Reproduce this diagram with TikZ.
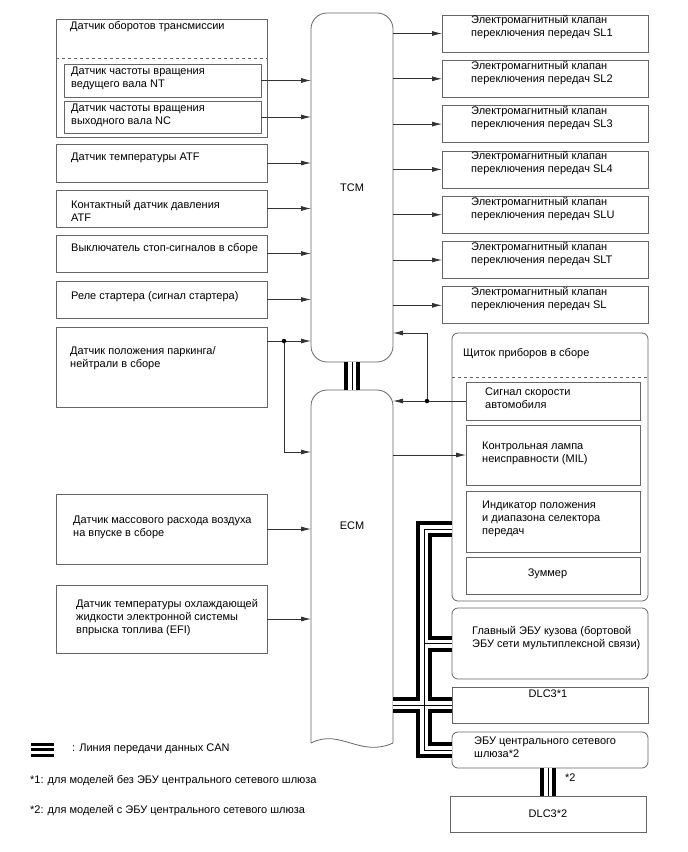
\documentclass[tikz,border=0pt]{standalone}
\usepackage{fontspec}
\setmainfont{Liberation Sans}
\usetikzlibrary{positioning,arrows.meta}

\begin{document}
\begin{tikzpicture}[x=1pt,y=1pt,
  every node/.style={font=\fontsize{11}{13}\selectfont},
  box/.style={draw=black!60,line width=0.8pt,inner sep=0pt,outer sep=0pt,minimum width=211pt},
  rbox/.style={box,minimum width=206pt,minimum height=37pt},
  ibox/.style={box,minimum width=174pt},
  txt/.style={anchor=west,align=left,inner sep=0pt},
  arr/.style={draw=black!80,line width=0.8pt,-{Latex[length=10pt,width=5pt]}},
  dot/.style={circle,fill=black,inner sep=0pt,minimum size=4.5pt},
  can/.style={line width=0.8pt,line join=miter,preaction={draw,line width=16pt},preaction={draw=white,line width=8pt}}]
\useasboundingbox (0,0) rectangle (688,-852);
% left column
\node[box,minimum height=118pt] (tsen) at (161.5,-78) {};
\draw[dashed,draw=black!60,line width=0.8pt] (tsen.west |- 0,-58) -- (tsen.east |- 0,-58);
\node[txt] (tsent) at (70,-27) {Датчик оборотов трансмиссии};
\node[box,minimum width=197pt,minimum height=33pt] (nt) at (162.5,-80.5) {};
\node[box,minimum width=197pt,minimum height=32pt] (nc) at (162.5,-117) {};
\node[txt] (ntt) at (71,-78) {Датчик частоты вращения\\ведущего вала NT};
\node[txt] (nct) at (71,-115.5) {Датчик частоты вращения\\выходного вала NC};
\node[box,minimum height=38pt] (atf) at (161.5,-163) {};
\node[box,minimum height=37pt,below=8pt of atf] (prs) {};
\node[box,minimum height=37pt,below=8pt of prs] (stp) {};
\node[box,minimum height=37pt,below=9pt of stp] (str) {};
\node[txt] (atft) at (71,-158) {Датчик температуры ATF};
\node[txt] (prst) at (71,-210.5) {Контактный датчик давления\\ATF};
\node[txt] (stpt) at (71,-249) {Выключатель стоп-сигналов в сборе};
\node[txt] (strt) at (71,-297) {Реле стартера (сигнал стартера)};
\node[box,minimum height=80pt] (pn) at (161.5,-367) {};
\node[box,minimum height=70pt] (maf) at (161.5,-529) {};
\node[box,minimum height=68pt] (clt) at (161.5,-619) {};
\node[txt] (pnt) at (70,-358.5) {Датчик положения паркинга/\\нейтрали в сборе};
\node[txt] (maft) at (73,-527.5) {Датчик массового расхода воздуха\\на впуске в сборе};
\node[txt] (cltt) at (76,-617.5) {Датчик температуры охлаждающей\\жидкости электронной системы\\впрыска топлива (EFI)};
% TCM and ECM
\node[box,minimum width=82pt,minimum height=349pt,rounded corners=16pt] (tcm) at (352,-187.5) {TCM};
\node[inner sep=0pt,outer sep=0pt,minimum width=82pt,minimum height=353pt] (ecm) at (352,-566.5) {};
\draw[draw=black!60,line width=0.8pt,rounded corners=16pt] (ecm.south west) -- (ecm.north west) -- (ecm.north east) -- (ecm.south east);
\draw[draw=black!60,line width=0.8pt] (ecm.south west) .. controls +(29,15) and +(-33,-15) .. (ecm.south east);
\node (ecmt) at (352,-526) {ECM};
% solenoids
\node[rbox] (sl1) at (545,-33.5) {};
\node[rbox,below=8.3pt of sl1] (sl2) {};
\node[rbox,below=8.3pt of sl2] (sl3) {};
\node[rbox,below=8.3pt of sl3] (sl4) {};
\node[rbox,below=8.3pt of sl4] (slu) {};
\node[rbox,below=8.3pt of slu] (slt) {};
\node[rbox,below=8.3pt of slt] (sl) {};
\node[txt,right=29pt of sl1.west,yshift=6pt] (sl1t) {Электромагнитный клапан\\переключения передач SL1};
\node[txt,right=29pt of sl2.west,yshift=6pt] (sl2t) {Электромагнитный клапан\\переключения передач SL2};
\node[txt,right=29pt of sl3.west,yshift=6pt] (sl3t) {Электромагнитный клапан\\переключения передач SL3};
\node[txt,right=29pt of sl4.west,yshift=6pt] (sl4t) {Электромагнитный клапан\\переключения передач SL4};
\node[txt,right=29pt of slu.west,yshift=6pt] (slut) {Электромагнитный клапан\\переключения передач SLU};
\node[txt,right=29pt of slt.west,yshift=6pt] (sltt) {Электромагнитный клапан\\переключения передач SLT};
\node[txt,right=29pt of sl.west,yshift=6pt] (slxt) {Электромагнитный клапан\\переключения передач SL};
% combination meter
\node[box,minimum width=196pt,minimum height=268pt,rounded corners=6pt] (clu) at (550,-467) {};
\draw[dashed,draw=black!60,line width=0.8pt] (clu.west |- 0,-377) -- (clu.east |- 0,-377);
\node[txt] (clut) at (463,-354) {Щиток приборов в сборе};
\node[ibox,minimum height=38pt] (spd) at (553,-401) {};
\node[ibox,minimum height=60pt,below=5pt of spd] (mil) {};
\node[ibox,minimum height=61pt,below=6pt of mil] (ind) {};
\node[ibox,minimum height=37pt,below=5pt of ind] (buz) {};
\node[txt] (spdt) at (485,-398.5) {Сигнал скорости\\автомобиля};
\node[txt] (milt) at (482,-453.5) {Контрольная лампа\\неисправности (MIL)};
\node[txt] (indt) at (482,-519) {Индикатор положения\\и диапазона селектора\\передач};
\node (buzt) at (547.5,-574) {Зуммер};
% other ECUs
\node[box,minimum width=196pt,minimum height=71pt,rounded corners=6pt] (bcm) at (550,-643.5) {};
\node[box,minimum width=196pt,minimum height=36pt] (dlc1) at (550,-705) {};
\node[box,minimum width=196pt,minimum height=36pt,rounded corners=6pt] (gw) at (550,-750) {};
\node[box,minimum width=196pt,minimum height=36pt] (dlc2) at (548,-814) {DLC3*2};
\node[txt] (bcmt) at (472,-638.5) {Главный ЭБУ кузова (бортовой\\ЭБУ сети мультиплексной связи)};
\node (dlc1t) at (548,-694) {DLC3*1};
\node[txt] (gwt) at (474,-747) {ЭБУ центрального сетевого\\шлюза*2};
\node[txt] (note2) at (565,-778) {*2};
% legend
\fill (31,-742.5) rectangle (54,-745.5);
\fill (31,-748) rectangle (54,-750.5);
\fill (31,-754) rectangle (54,-757);
\node[txt] (leg) at (72,-749) {: Линия передачи данных CAN};
\node[txt] (fn1) at (30,-781) {*1: для моделей без ЭБУ центрального сетевого шлюза};
\node[txt] (fn2) at (30,-811) {*2: для моделей с ЭБУ центрального сетевого шлюза};
% inputs
\draw[arr] (nt.east) -- (nt.east -| tcm.west);
\draw[arr] (nc.east) -- (nc.east -| tcm.west);
\draw[arr] (atf.east) -- (atf.east -| tcm.west);
\draw[arr] (prs.east) -- (prs.east -| tcm.west);
\draw[arr] (stp.east) -- (stp.east -| tcm.west);
\draw[arr] (str.east) -- (str.east -| tcm.west);
\coordinate (pnj) at (284,-341);
\draw[draw=black!80,line width=0.8pt] (pn.east |- pnj) -- (pnj);
\draw[arr] (pnj) -- (pnj -| tcm.west);
\draw[arr] (pnj) |- (ecm.west |- 0,-452);
\node[dot] (pnd) at (pnj) {};
\draw[arr] (maf.east) -- (maf.east -| ecm.west);
\draw[arr] (clt.east) -- (clt.east -| ecm.west);
% outputs
\draw[arr] (tcm.east |- sl1.west) -- (sl1.west);
\draw[arr] (tcm.east |- sl2.west) -- (sl2.west);
\draw[arr] (tcm.east |- sl3.west) -- (sl3.west);
\draw[arr] (tcm.east |- sl4.west) -- (sl4.west);
\draw[arr] (tcm.east |- slu.west) -- (slu.west);
\draw[arr] (tcm.east |- slt.west) -- (slt.west);
\draw[arr] (tcm.east |- sl.west) -- (sl.west);
\coordinate (spj) at (427,-401);
\draw[arr] (spd.west) -- (spd.west -| ecm.east);
\draw[arr] (spj) |- (tcm.east |- 0,-333);
\node[dot] (spdd) at (spj) {};
\draw[arr] (ecm.east |- mil.west) -- (mil.west);
% CAN
\coordinate (bt) at (424,-529);
\draw[can] (tcm.south) -- (ecm.north)
  (bt -| clu.west) -- (bt) -- (bt |- gw.west) -- (gw.west)
  (bt |- bcm.west) -- (bcm.west)
  (ecm.east |- dlc1.west) -- (dlc1.west)
  (gw.south -| dlc2.north) -- (dlc2.north);
\end{tikzpicture}
\end{document}
